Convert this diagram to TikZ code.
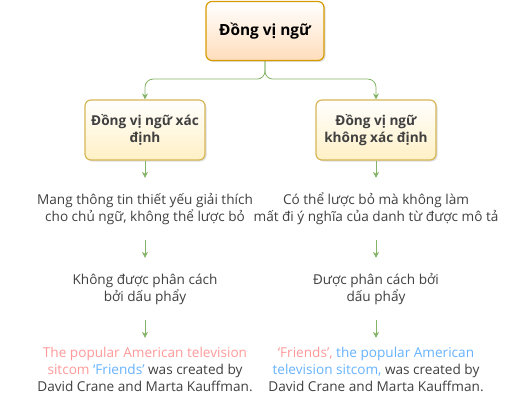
\documentclass[tikz,border=0pt]{standalone}
\usepackage{fontspec}
\setmainfont{Open Sans}
\usetikzlibrary{arrows.meta,shadows}
\definecolor{edgegreen}{HTML}{82B366}
\definecolor{topline}{HTML}{D79B00}
\definecolor{topfill}{HTML}{FFDDBB}
\definecolor{subline}{HTML}{D6B656}
\definecolor{subfill}{HTML}{FFF0C4}
\definecolor{textgray}{HTML}{404040}
\definecolor{pinktxt}{HTML}{FF9999}
\definecolor{bluetxt}{HTML}{66B2FF}

\begin{document}
\begin{tikzpicture}[x=1pt,y=-1pt,
  mainbox/.style={rounded corners=6pt, draw=topline, line width=1.2pt,
    top color=white, bottom color=topfill, minimum width=118pt, minimum height=59pt,
    drop shadow={shadow xshift=1.5pt, shadow yshift=-1.5pt, opacity=0.25},
    font=\fontsize{15.4}{18}\selectfont\bfseries},
  subbox/.style={rounded corners=6pt, draw=subline, line width=1.2pt,
    top color=white, bottom color=subfill, minimum width=120pt, minimum height=60pt,
    drop shadow={shadow xshift=1.5pt, shadow yshift=-1.5pt, opacity=0.25},
    align=center, text=textgray, inner sep=1pt, font=\fontsize{13.6}{17}\selectfont\bfseries},
  txt/.style={align=center, text=textgray, minimum height=62pt, inner sep=0pt,
    font=\fontsize{13.6}{17}\selectfont},
  arr/.style={draw=edgegreen, line width=0.8pt, -{Stealth[length=6pt,width=6pt]}}]
\useasboundingbox (0,0) rectangle (526,401);

\node[mainbox] (top) at (265,31) {Đồng vị ngữ};
\node[subbox] (l) at (145,130) {Đồng vị ngữ xác\\định};
\node[subbox] (r) at (376,130) {Đồng vị ngữ\\không xác định};

\node[txt] (l1) at (145,209) {Mang thông tin thiết yếu giải thích\\cho chủ ngữ, không thể lược bỏ};
\node[txt] (r1) at (376,209) {Có thể lược bỏ mà không làm\\mất đi ý nghĩa của danh từ được mô tả};
\node[txt] (l2) at (145,289) {Không được phân cách\\bởi dấu phẩy};
\node[txt] (r2) at (376,289) {Được phân cách bởi\\dấu phẩy};
\node[txt] (l3) at (145,369) {\textcolor{pinktxt}{The popular American television}\\
  \textcolor{pinktxt}{sitcom} \textcolor{bluetxt}{‘Friends’} was created by\\
  David Crane and Marta Kauffman.};
\node[txt] (r3) at (376,369) {\textcolor{pinktxt}{‘Friends’,} \textcolor{bluetxt}{the popular American}\\
  \textcolor{bluetxt}{television sitcom,} was created by\\
  David Crane and Marta Kauffman.};

\draw[arr, rounded corners=8pt] (top.south) -- ++(0,18) -| (l.north);
\draw[arr, rounded corners=8pt] (top.south) -- ++(0,18) -| (r.north);
\foreach \from/\to in {l/l1,l1/l2,l2/l3,r/r1,r1/r2,r2/r3}
\draw[arr] (\from) -- (\to);
\end{tikzpicture}
\end{document}
